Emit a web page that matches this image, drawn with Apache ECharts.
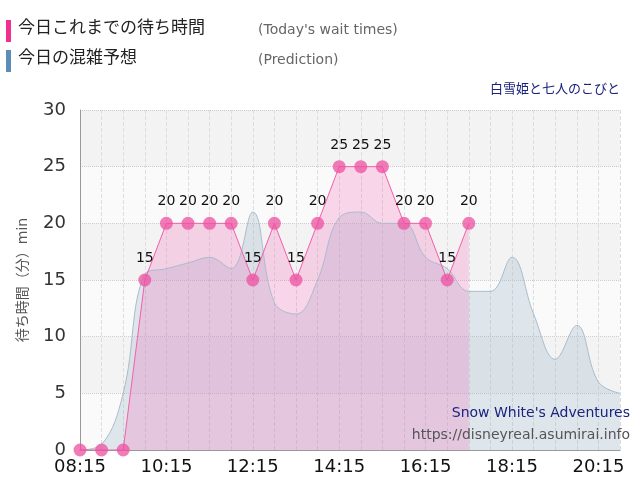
<!DOCTYPE html>
<html><head><meta charset="utf-8">
<script src="https://cdn.jsdelivr.net/npm/echarts@6/dist/echarts.min.js"></script>
<style>body{margin:0}#main{width:640px;height:500px}</style>
</head><body><div id="main"></div>
<script>
const times = ['08:15','08:45','09:15','09:45','10:15','10:45','11:15','11:45','12:15','12:45','13:15','13:45','14:15','14:45','15:15','15:45','16:15','16:45','17:15','17:45','18:15','18:45','19:15','19:45','20:15','20:45'];
const actual = [0,0,0,15,20,20,20,20,15,20,15,20,25,25,25,20,20,15,20];
const prediction = [0,0.5,5,15.5,16,16.5,17,16,21,13,12,15,20.5,21,20,20,17,16,14,14,17,12,8,11,6,5];
const yTicks = [0,5,10,15,20,25,30];

const chart = echarts.init(document.getElementById('main'));
const font = '"DejaVu Sans", "Noto Sans CJK JP", sans-serif';
chart.setOption({
  textStyle: { fontFamily: font },
  grid: { left: 80, right: 20, top: 110, bottom: 50 },
  graphic: [
    { type: 'rect', left: 6, top: 20, shape: { width: 5, height: 22 }, style: { fill: '#f0308f' } },
    { type: 'text', left: 18, top: 20, style: { text: '今日これまでの待ち時間', font: '17px ' + font, fill: '#222' } },
    { type: 'text', left: 258, top: 23, style: { text: "(Today's wait times)", font: '14px ' + font, fill: '#666' } },
    { type: 'rect', left: 6, top: 50, shape: { width: 5, height: 22 }, style: { fill: '#5b8db8' } },
    { type: 'text', left: 18, top: 50, style: { text: '今日の混雑予想', font: '17px ' + font, fill: '#222' } },
    { type: 'text', left: 258, top: 53, style: { text: '(Prediction)', font: '14px ' + font, fill: '#666' } },
    { type: 'text', right: 20, top: 83, style: { text: '白雪姫と七人のこびと', font: '13px ' + font, fill: '#1a237e' } },
    { type: 'text', right: 10, top: 406, z: 10, style: { text: "Snow White's Adventures", font: '14px ' + font, fill: '#1a237e' } },
    { type: 'text', right: 10, top: 428, z: 10, style: { text: 'https://disneyreal.asumirai.info', font: '14px ' + font, fill: '#555' } }
  ],
  xAxis: {
    type: 'category', data: times, boundaryGap: false,
    axisLine: { lineStyle: { color: '#999' } },
    axisTick: { show: false },
    axisLabel: { interval: 3, fontSize: 18, color: '#111', margin: 8 },
    splitLine: { show: true, interval: 0, lineStyle: { type: 'dashed', color: '#ddd' } }
  },
  yAxis: {
    type: 'value', min: 0, max: 30, interval: 5,
    name: '待ち時間（分）min', nameLocation: 'middle', nameGap: 50,
    nameTextStyle: { fontSize: 14, color: '#555' },
    axisLine: { show: true, lineStyle: { color: '#999' } },
    axisLabel: { fontSize: 18, color: '#333', margin: 14, formatter: v => yTicks.includes(v) ? v : '' },
    splitLine: { lineStyle: { type: 'dotted', color: '#ccc' } },
    splitArea: { show: true, areaStyle: { color: ['#fafafa', '#f3f3f3'] } }
  },
  series: [
    {
      name: 'prediction', type: 'line', data: prediction, smooth: 0.4, symbol: 'none',
      lineStyle: { color: '#a9bccb', width: 1 },
      areaStyle: { color: 'rgba(150,180,200,0.4)' }
    },
    {
      name: 'actual', type: 'line', data: actual, symbol: 'circle', symbolSize: 13,
      itemStyle: { color: 'rgba(238,80,160,0.75)' },
      lineStyle: { color: '#f060a8', width: 1 },
      areaStyle: { color: 'rgba(245,100,185,0.35)' },
      label: { show: true, position: 'top', fontSize: 14, color: '#111', distance: 8, formatter: p => p.value > 0 ? p.value : '' }
    }
  ]
});
</script></body></html>
